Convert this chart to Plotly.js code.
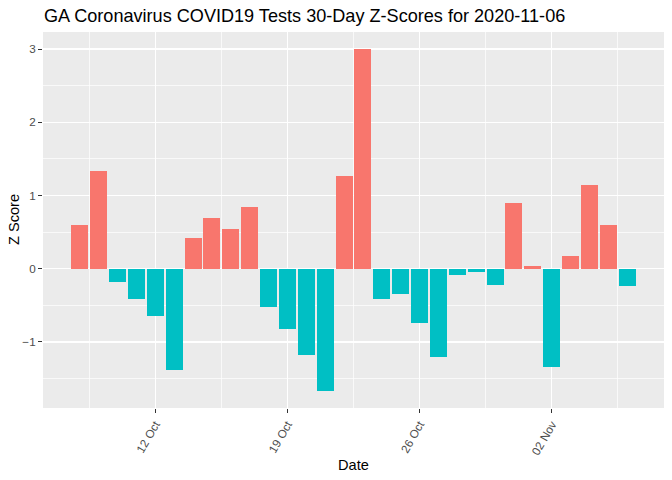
<!DOCTYPE html>
<html>
<head>
<meta charset="utf-8">
<script src="https://cdn.plot.ly/plotly-3.0.1.min.js"></script>
<style>html,body{margin:0;padding:0;background:#fff;}#chart{width:672px;height:480px;}</style>
</head>
<body>
<div id="chart"></div>
<script>
var dates = ["2020-10-08","2020-10-09","2020-10-10","2020-10-11","2020-10-12","2020-10-13","2020-10-14","2020-10-15","2020-10-16","2020-10-17",
             "2020-10-18","2020-10-19","2020-10-20","2020-10-21","2020-10-22","2020-10-23","2020-10-24","2020-10-25","2020-10-26","2020-10-27",
             "2020-10-28","2020-10-29","2020-10-30","2020-10-31","2020-11-01","2020-11-02","2020-11-03","2020-11-04","2020-11-05","2020-11-06"];
var zscores = [0.60, 1.33, -0.18, -0.42, -0.64, -1.38, 0.42, 0.69, 0.54, 0.84,
               -0.53, -0.82, -1.18, -1.67, 1.27, 3.00, -0.42, -0.35, -0.74, -1.20,
               -0.08, -0.05, -0.22, 0.90, 0.04, -1.35, 0.17, 1.15, 0.59, -0.24];
var posColor = "#F8766D", negColor = "#00BFC4";
var DAY = 86400000;
var colors = zscores.map(function(v){ return v > 0 ? posColor : negColor; });

var t0 = Date.parse("2020-10-08T00:00:00Z"), t1 = Date.parse("2020-11-06T00:00:00Z");
var lo = t0 - 0.45*DAY, hi = t1 + 0.45*DAY, ex = (hi - lo)*0.05;
var ymin = Math.min(0, Math.min.apply(null, zscores)), ymax = Math.max(0, Math.max.apply(null, zscores));
var yex = (ymax - ymin)*0.05;

var trace = {
  type: "bar",
  x: dates,
  y: zscores,
  width: dates.map(function(){ return 0.9*DAY; }),
  marker: {color: colors, line: {width: 0}},
  hoverinfo: "x+y"
};

var FAM = "Liberation Sans, Arial, sans-serif";
var tickFont = {family: FAM, size: 11.7, color: "#4D4D4D"};
var W = 672, H = 480, ML = 43, MR = 8, MT = 32, MB = 72;
var PW = W - ML - MR, PH = H - MT - MB;
var layout = {
  width: W, height: H,
  margin: {l: ML, r: MR, t: MT, b: MB},
  paper_bgcolor: "#FFFFFF",
  plot_bgcolor: "#EBEBEB",
  showlegend: false,
  bargap: 0,
  title: {
    text: "GA Coronavirus COVID19 Tests 30-Day Z-Scores for 2020-11-06",
    font: {family: FAM, size: 18.1, color: "#000000"},
    xref: "container", x: 44/W, xanchor: "left",
    yref: "container", y: 1 - 16/H, yanchor: "middle"
  },
  xaxis: {
    type: "date",
    range: [new Date(lo - ex).toISOString(), new Date(hi + ex).toISOString()],
    tick0: "2020-10-12", dtick: 7*DAY,
    tickformat: "%d %b",
    tickangle: -60,
    tickfont: tickFont,
    ticks: "outside", ticklen: 4, tickwidth: 1, tickcolor: "#333333",
    showgrid: true, gridcolor: "#FFFFFF", gridwidth: 1.4,
    minor: {tick0: "2020-10-08 12:00", dtick: 3.5*DAY, showgrid: true, gridcolor: "#FFFFFF", gridwidth: 0.7, ticks: ""},
    zeroline: false, showline: false,
    fixedrange: true
  },
  yaxis: {
    range: [ymin - yex, ymax + yex],
    tick0: 0, dtick: 1,
    tickfont: tickFont,
    ticks: "outside", ticklen: 4, tickwidth: 1, tickcolor: "#333333",
    showgrid: true, gridcolor: "#FFFFFF", gridwidth: 1.4,
    minor: {tick0: 0.5, dtick: 1, showgrid: true, gridcolor: "#FFFFFF", gridwidth: 0.7, ticks: ""},
    zeroline: false, showline: false,
    fixedrange: true
  },
  annotations: [
    {text: "Date", xref: "paper", yref: "paper", x: 0.5, y: (H - MB - 465)/PH, xanchor: "center", yanchor: "middle",
     showarrow: false, font: {family: FAM, size: 14.6, color: "#000000"}},
    {text: "Z Score", xref: "paper", yref: "paper", x: (14 - ML)/PW, y: 0.5, xanchor: "center", yanchor: "middle",
     textangle: -90, showarrow: false, font: {family: FAM, size: 14.6, color: "#000000"}}
  ]
};

Plotly.newPlot("chart", [trace], layout, {displayModeBar: false, staticPlot: true});
</script>
</body>
</html>
